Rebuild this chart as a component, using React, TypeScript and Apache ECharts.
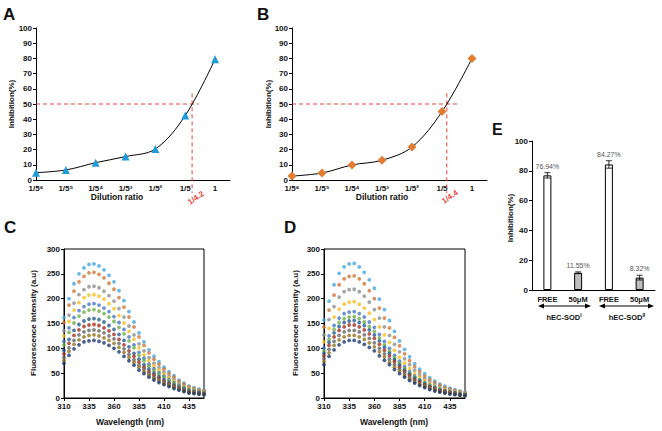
import React, { useEffect, useRef } from 'react';
import * as echarts from 'echarts';

const FONT = 'Arial, "Liberation Sans", "DejaVu Sans", sans-serif';

// Panels A & B: dilution series
const dilutionLabels = ['1/5⁶', '1/5⁵', '1/5⁴', '1/5³', '1/5²', '1/5', '1'];
const dilutionPositions = [0, 1, 2, 3, 4, 5, 6];
const inhibitionA = [4.8, 6.6, 11.4, 15.4, 20.4, 42.4, 79.5];
const inhibitionB = [2.6, 4.6, 9.9, 13.0, 21.7, 45.0, 80.0];
const halfPointA = [5.23, 50];
const halfPointB = [5.16, 50];
const halfLabelA = '1/4.2';
const halfLabelB = '1/4.4';
const inhibitionTicks = [0, 10, 20, 30, 40, 50, 60, 70, 80, 90, 100];

// Panel E: bar chart
const eCategories = ['FREE', '50μM', 'FREE', '50μM'];
const eValues = [76.94, 11.55, 84.27, 8.32];
const eErrors = [1.8, 0.6, 2.5, 1.6];
const eLabels = ['76.94%', '11.55%', '84.27%', '8.32%'];
const eGroups = ['I', 'II'];

// Panels C & D: fluorescence spectra
const wavelengths = [310, 315, 320, 325, 330, 335, 340, 345, 350, 355, 360, 365, 370, 375, 380, 385, 390, 395, 400, 405, 410, 415, 420, 425, 430, 435, 440, 445, 450];
const wavelengthTicks = [310, 335, 360, 385, 410, 435];
const spectraC: number[][] = [
  [162, 200, 230, 250, 262, 269, 270, 266, 258, 247, 234, 216, 196, 174, 153, 131, 113, 97, 84, 73, 62, 53, 45, 36, 30, 24, 21, 18, 16],
  [152, 187, 215, 234, 245, 252, 253, 249, 242, 231, 219, 202, 183, 163, 143, 123, 106, 91, 78, 68, 58, 49, 42, 34, 28, 23, 19, 17, 15],
  [135, 167, 191, 208, 218, 224, 225, 222, 215, 206, 195, 180, 163, 145, 127, 109, 95, 81, 70, 61, 52, 44, 37, 30, 25, 20, 17, 15, 13],
  [125, 154, 177, 192, 202, 207, 208, 205, 199, 190, 180, 166, 151, 134, 118, 101, 87, 75, 64, 56, 48, 41, 34, 28, 23, 19, 16, 14, 12],
  [114, 141, 162, 176, 184, 189, 190, 187, 181, 174, 164, 152, 138, 123, 107, 92, 80, 68, 59, 51, 44, 37, 31, 26, 21, 17, 15, 13, 11],
  [107, 132, 151, 165, 173, 177, 178, 175, 170, 163, 154, 142, 129, 115, 101, 86, 75, 64, 55, 48, 41, 35, 29, 24, 20, 16, 14, 12, 10],
  [96, 118, 136, 148, 155, 159, 160, 158, 153, 146, 138, 128, 116, 103, 90, 78, 67, 58, 50, 43, 37, 31, 26, 22, 18, 14, 12, 11, 9],
  [89, 110, 126, 137, 144, 147, 148, 146, 141, 135, 128, 118, 107, 95, 84, 72, 62, 53, 46, 40, 34, 29, 24, 20, 16, 13, 11, 10, 9],
  [82, 101, 116, 127, 133, 136, 137, 135, 131, 125, 119, 110, 99, 88, 77, 66, 58, 49, 42, 37, 32, 27, 23, 18, 15, 12, 11, 9, 8],
  [76, 94, 108, 117, 123, 126, 127, 125, 121, 116, 110, 102, 92, 82, 72, 62, 53, 46, 39, 34, 29, 25, 21, 17, 14, 11, 10, 8, 7],
  [70, 86, 99, 107, 113, 115, 116, 114, 111, 106, 100, 93, 84, 75, 66, 56, 49, 42, 36, 31, 27, 23, 19, 16, 13, 10, 9, 8, 7],
];
const spectraD: number[][] = [
  [157, 195, 228, 251, 264, 270, 271, 264, 253, 238, 221, 199, 178, 156, 134, 115, 98, 83, 69, 58, 49, 41, 34, 28, 24, 20, 17, 14, 12],
  [143, 177, 207, 228, 240, 245, 246, 240, 230, 216, 200, 181, 161, 141, 122, 105, 89, 75, 63, 53, 44, 37, 31, 26, 21, 18, 15, 13, 11],
  [127, 158, 184, 203, 214, 218, 219, 214, 205, 193, 178, 161, 143, 126, 108, 93, 79, 67, 56, 47, 39, 33, 27, 23, 19, 16, 13, 11, 9],
  [113, 140, 163, 179, 189, 193, 194, 189, 181, 171, 158, 143, 127, 112, 96, 82, 70, 59, 49, 42, 35, 29, 24, 20, 17, 14, 12, 10, 8],
  [101, 125, 146, 161, 170, 173, 174, 170, 163, 153, 142, 128, 114, 100, 86, 74, 63, 53, 44, 37, 31, 26, 22, 18, 15, 13, 11, 9, 7],
  [95, 118, 138, 152, 160, 163, 164, 160, 153, 144, 134, 121, 107, 94, 81, 70, 59, 50, 42, 35, 30, 25, 20, 17, 14, 12, 10, 8, 7],
  [90, 112, 131, 144, 152, 155, 156, 152, 146, 137, 127, 115, 102, 90, 77, 66, 56, 48, 40, 34, 28, 23, 20, 16, 14, 11, 10, 8, 7],
  [85, 106, 123, 136, 143, 147, 147, 143, 137, 129, 120, 108, 96, 85, 73, 62, 53, 45, 37, 32, 26, 22, 18, 15, 13, 11, 9, 7, 6],
  [79, 98, 114, 126, 133, 136, 136, 133, 127, 120, 111, 100, 89, 78, 67, 58, 49, 41, 35, 29, 24, 20, 17, 14, 12, 10, 8, 7, 6],
  [73, 91, 106, 117, 123, 126, 126, 123, 118, 111, 103, 93, 83, 72, 62, 54, 45, 38, 32, 27, 23, 19, 16, 13, 11, 9, 8, 6, 5],
  [67, 84, 97, 107, 113, 116, 116, 113, 108, 102, 95, 85, 76, 67, 57, 49, 42, 35, 30, 25, 21, 17, 14, 12, 10, 8, 7, 6, 5],
];
const spectraColors = ['#44a6de', '#cf7636', '#8e8e8e', '#f6be22', '#4778c2', '#6eae48', '#245d94', '#a8321f', '#666666', '#93741f', '#1d3a70'];

const RED = '#e8433b';

const axisLine = { show: true, lineStyle: { color: '#000', width: 1 } };
const axisLabel = { fontSize: 8, fontWeight: 'bold', color: '#111', fontFamily: FONT, margin: 4 };
const axisTick = { show: true, length: 3, lineStyle: { color: '#000' } };

function txt(x: number, y: number, text: string, opts: any = {}) {
  return {
    type: 'text',
    x,
    y,
    rotation: opts.rotation || 0,
    style: {
      text,
      fill: opts.color || '#111',
      font: `${opts.weight || 'bold'} ${opts.size || 8}px ${FONT}`,
      textAlign: opts.align || 'center',
      textVerticalAlign: opts.valign || 'middle',
      align: opts.align || 'center',
      verticalAlign: opts.valign || 'middle',
      rich: opts.rich,
    },
    silent: true,
  };
}

function arrow(x1: number, x2: number, y: number) {
  return [
    { type: 'line', shape: { x1: x1 + 4, y1: y, x2: x2 - 4, y2: y }, style: { stroke: '#000', lineWidth: 1 }, silent: true },
    { type: 'polygon', shape: { points: [[x1, y], [x1 + 6, y - 2.5], [x1 + 6, y + 2.5]] }, style: { fill: '#000' }, silent: true },
    { type: 'polygon', shape: { points: [[x2, y], [x2 - 6, y - 2.5], [x2 - 6, y + 2.5]] }, style: { fill: '#000' }, silent: true },
  ];
}

export default function App() {
  const ref = useRef<HTMLDivElement>(null);
  useEffect(() => {
    if (!ref.current) return;
    const chart = echarts.init(ref.current, null, { renderer: 'svg' });

    const dilutionX = (i: number) => ({
      type: 'value',
      gridIndex: i,
      min: 0,
      max: 6.5,
      axisLine,
      axisTick: { show: false },
      splitLine: { show: false },
      axisLabel: {
        ...axisLabel,
        customValues: dilutionPositions,
        formatter: (v: number) => dilutionLabels[Math.round(v)] ?? '',
      },
    });
    const inhibY = (i: number) => ({
      type: 'value',
      gridIndex: i,
      min: 0,
      max: 100,
      interval: 10,
      axisLine,
      axisTick,
      splitLine: { show: false },
      axisLabel: { ...axisLabel, customValues: inhibitionTicks },
    });
    const waveX = (i: number) => ({
      type: 'value',
      gridIndex: i,
      min: 310,
      max: 450,
      axisLine,
      axisTick: { ...axisTick, customValues: wavelengthTicks },
      splitLine: { show: false },
      axisLabel: { ...axisLabel, customValues: wavelengthTicks },
    });
    const fluorY = (i: number) => ({
      type: 'value',
      gridIndex: i,
      min: 0,
      max: 300,
      interval: 50,
      axisLine,
      axisTick,
      splitLine: { show: false },
      axisLabel,
    });

    const curve = (idx: number, values: number[], symbol: string, size: number, color: string) => ({
      type: 'line',
      xAxisIndex: idx,
      yAxisIndex: idx,
      data: dilutionPositions.map((p, i) => [p, values[i]]),
      smooth: 0.35,
      symbol,
      symbolSize: size,
      itemStyle: { color },
      lineStyle: { color: '#000', width: 1 },
      z: 3,
    });
    const dashed = (idx: number, data: number[][]) => ({
      type: 'line',
      xAxisIndex: idx,
      yAxisIndex: idx,
      data,
      symbol: 'none',
      clip: false,
      lineStyle: { color: RED, width: 1, type: [4, 3] },
      z: 2,
    });

    const spectra = (idx: number, rows: number[][]) =>
      rows.map((row, s) => ({
        type: 'scatter',
        xAxisIndex: idx,
        yAxisIndex: idx,
        data: wavelengths.map((w, i) => [w, row[i]]),
        symbol: 'circle',
        symbolSize: 3.8,
        itemStyle: { color: spectraColors[s] },
      }));

    const option: any = {
      animation: false,
      backgroundColor: '#fff',
      grid: [
        { left: 36, top: 28, width: 194, height: 152 },
        { left: 292, top: 28, width: 195, height: 152 },
        { left: 532, top: 141, width: 123, height: 149 },
        { left: 64, top: 249, width: 140, height: 149, show: true, borderColor: '#000', borderWidth: 1, backgroundColor: 'transparent' },
        { left: 324, top: 249, width: 141, height: 149, show: true, borderColor: '#000', borderWidth: 1, backgroundColor: 'transparent' },
      ],
      xAxis: [
        dilutionX(0),
        dilutionX(1),
        {
          type: 'category',
          gridIndex: 2,
          data: eCategories,
          axisLine,
          axisTick: { show: false },
          axisLabel: { ...axisLabel, fontSize: 7.5, margin: 5 },
        },
        waveX(3),
        waveX(4),
      ],
      yAxis: [
        inhibY(0),
        inhibY(1),
        {
          type: 'value',
          gridIndex: 2,
          min: 0,
          max: 100,
          interval: 20,
          axisLine,
          axisTick,
          splitLine: { show: false },
          axisLabel,
        },
        fluorY(3),
        fluorY(4),
      ],
      series: [
        dashed(0, [[0, halfPointA[1]], [5.46, halfPointA[1]]]),
        dashed(0, [[halfPointA[0], 57], [halfPointA[0], -8.5]]),
        curve(0, inhibitionA, 'triangle', 8, '#1f9bd9'),
        dashed(1, [[0, halfPointB[1]], [5.5, halfPointB[1]]]),
        dashed(1, [[halfPointB[0], 57], [halfPointB[0], -8.5]]),
        curve(1, inhibitionB, 'diamond', 9, '#e07d33'),
        {
          type: 'bar',
          xAxisIndex: 2,
          yAxisIndex: 2,
          barWidth: 8,
          data: eValues.map((v, i) => ({
            value: v,
            itemStyle: {
              color: i % 2 === 0 ? '#ffffff' : '#bdbdbd',
              borderColor: '#000',
              borderWidth: 1,
            },
          })),
        },
        {
          type: 'custom',
          xAxisIndex: 2,
          yAxisIndex: 2,
          data: eValues.map((v, i) => [i, v, eErrors[i]]),
          z: 5,
          renderItem: (params: any, api: any) => {
            const i = api.value(0);
            const v = api.value(1);
            const e = api.value(2);
            const top = api.coord([i, v + e]);
            const bot = api.coord([i, v - e]);
            const x = top[0];
            const st = { stroke: '#000', lineWidth: 0.8 };
            return {
              type: 'group',
              children: [
                { type: 'line', shape: { x1: x, y1: top[1], x2: x, y2: bot[1] }, style: st },
                { type: 'line', shape: { x1: x - 3, y1: top[1], x2: x + 3, y2: top[1] }, style: st },
                { type: 'line', shape: { x1: x - 3, y1: bot[1], x2: x + 3, y2: bot[1] }, style: st },
                {
                  type: 'text',
                  x,
                  y: top[1] - 3,
                  style: {
                    text: eLabels[params.dataIndex],
                    fill: '#555',
                    font: `normal 7px ${FONT}`,
                    textAlign: 'center',
                    textVerticalAlign: 'bottom',
                    align: 'center',
                    verticalAlign: 'bottom',
                  },
                },
              ],
            };
          },
        },
        ...spectra(3, spectraC),
        ...spectra(4, spectraD),
      ],
      graphic: [
        txt(3, 6, 'A', { size: 17, align: 'left', valign: 'top' }),
        txt(257, 6, 'B', { size: 17, align: 'left', valign: 'top' }),
        txt(4, 219, 'C', { size: 17, align: 'left', valign: 'top' }),
        txt(284, 219, 'D', { size: 17, align: 'left', valign: 'top' }),
        txt(492, 121, 'E', { size: 16, align: 'left', valign: 'top' }),
        txt(11, 104, 'Inhibition(%)', { rotation: Math.PI / 2 }),
        txt(268, 104, 'Inhibition(%)', { rotation: Math.PI / 2 }),
        txt(510, 218, 'Inhibition(%)', { rotation: Math.PI / 2 }),
        txt(117, 197, 'Dilution ratio', { size: 8.5 }),
        txt(382, 197, 'Dilution ratio', { size: 8.5 }),
        txt(196, 198, halfLabelA, { color: RED, rotation: 0.6, size: 8 }),
        txt(450, 197, halfLabelB, { color: RED, rotation: 0.6, size: 8 }),
        txt(33, 323, 'Fluorescence Intensity (a.u)', { rotation: Math.PI / 2 }),
        txt(295, 323, 'Fluorescence Intensity (a.u)', { rotation: Math.PI / 2 }),
        txt(130, 422, 'Wavelength (nm)', { size: 8.5 }),
        txt(394, 422, 'Wavelength (nm)', { size: 8.5 }),
        ...arrow(538, 591, 306),
        ...arrow(599, 654, 306),
        txt(564, 317, `{a|hEC-SOD}{b|${eGroups[0]}}`, {
          rich: {
            a: { fontSize: 7.5, fontWeight: 'bold', fontFamily: FONT, fill: '#111' },
            b: { fontSize: 5, fontWeight: 'bold', fontFamily: FONT, fill: '#111', padding: [0, 0, 5, 0] },
          },
        }),
        txt(627, 317, `{a|hEC-SOD}{b|${eGroups[1]}}`, {
          rich: {
            a: { fontSize: 7.5, fontWeight: 'bold', fontFamily: FONT, fill: '#111' },
            b: { fontSize: 5, fontWeight: 'bold', fontFamily: FONT, fill: '#111', padding: [0, 0, 5, 0] },
          },
        }),
      ],
    };
    chart.setOption(option);
    return () => chart.dispose();
  }, []);
  return (
    <div
      ref={ref}
      style={{ position: 'fixed', left: 0, top: 0, width: 662, height: 431, background: '#fff' }}
    />
  );
}
